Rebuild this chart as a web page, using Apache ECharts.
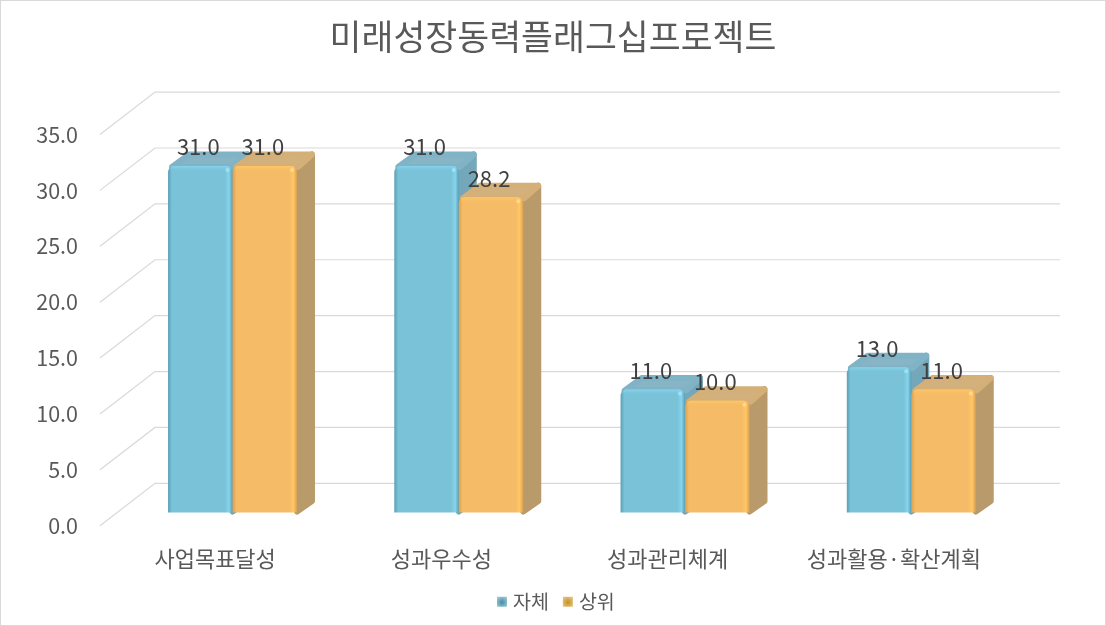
<!DOCTYPE html>
<html><head><meta charset="utf-8">
<style>html,body{margin:0;padding:0;background:#fff}#c{width:1106px;height:626px}</style>
<script src="https://cdn.jsdelivr.net/npm/echarts@6/dist/echarts.min.js"></script>
</head><body><div id="c"></div>
<script>
const titleText = '미래성장동력플래그십프로젝트';
const categories = ['사업목표달성','성과우수성','성과관리체계','성과활용·확산계획'];
const selfValues = [31.0,31.0,11.0,13.0];
const topValues = [31.0,28.2,10.0,11.0];
const yTicks = [0,5,10,15,20,25,30,35];
const FONT = '"Noto Sans CJK KR","Noto Sans",sans-serif';
const palette = {
  blue:{front:'#79C2D8',dark:'#5A9FB5',light:'#86D4EC',top:'#87B5C6',topRim:'#80B3C6',side:'#73A7B9',spot:'#A6E6F8'},
  orange:{front:'#F5BB66',dark:'#D9A052',light:'#FFC765',top:'#D3B17D',topRim:'#D4AF78',side:'#B89A6B',spot:'#FFDE96'}
};
function gridItem(params, api){
  const cs = params.coordSys, v = api.value(1), y = api.coord([0,v])[1];
  const dx = 53, dy = 42.4, xa = cs.x-2;
  const st = {stroke:'#D9D9D9',lineWidth:1.2,fill:null};
  return {type:'group',silent:true,children:[
    {type:'polyline',shape:{points:[[xa,y],[xa+dx+2,y-dy],[cs.x+cs.width+dx,y-dy]]},style:st,z2:0}
  ]};
}
function barItem(side, c){
  return function(params, api){
    const cat = api.value(0), val = api.value(1);
    const base = api.coord([cat,0]), tip = api.coord([cat,val]);
    const band = api.size([1,0])[0], w = band*0.285;
    const ox = 17.4, oy = 13.2, depX = 18, depY = 14.5;
    const x0 = base[0]+ox+(side<0?-w:0), x1 = x0+w, yb = base[1]-oy, yt = tip[1]-oy;
    const grad = new echarts.graphic.LinearGradient(0,0,1,0,[
      {offset:0,color:c.dark},{offset:0.06,color:c.front},{offset:0.88,color:c.front},{offset:0.945,color:c.light},{offset:1,color:c.dark}]);
    const gradTop = new echarts.graphic.LinearGradient(0,0,0,1,[
      {offset:0,color:c.light},{offset:1,color:c.front+'00'}]);
    const rim = 3;
    return {type:'group',silent:true,children:[
      {type:'polygon',shape:{points:[[x1,yt+3],[x1+depX-rim,yt-depY+rim],[x1+depX-rim,yb-depY+rim],[x1,yb-1]]},
        style:{fill:c.side,stroke:c.side,lineWidth:6,lineJoin:'round'},z2:2},
      {type:'polygon',shape:{points:[[x0+4,yt+1],[x0+depX+3,yt-depY+rim],[x1+depX-rim,yt-depY+rim],[x1+1,yt+1]]},
        style:{fill:c.top,stroke:c.topRim,lineWidth:6,lineJoin:'round'},z2:3},
      {type:'rect',shape:{x:x0,y:yt,width:w,height:yb-yt,r:[6,6,0,0]},style:{fill:grad},z2:4},
      {type:'rect',shape:{x:x0+2,y:yt,width:w-4,height:6,r:[4,4,0,0]},style:{fill:gradTop},z2:5},
      {type:'circle',shape:{cx:x1-5,cy:yt+4,r:2},style:{fill:c.spot,opacity:.8},z2:6},
      {type:'text',style:{text:val.toFixed(1),x:(x0+x1)/2-2,y:yt-19,align:'center',verticalAlign:'middle',
        font:'22px '+FONT,fill:'#404040'},z2:50}
    ]};
  };
}
const legendColor = (a,b)=>new echarts.graphic.RadialGradient(0.5,0.55,0.6,[{offset:0,color:a},{offset:1,color:b}]);
const chart = echarts.init(document.getElementById('c'),null,{renderer:'canvas'});
chart.setOption({
  backgroundColor:'#fff',animation:false,
  title:{text:titleText,left:'center',top:14,textStyle:{fontFamily:FONT,fontSize:34.7,fontWeight:'normal',color:'#595959'}},
  legend:{top:587,left:492,itemWidth:10,itemHeight:10,itemGap:14,icon:'rect',data:['자체','상위'],
    textStyle:{fontFamily:FONT,fontSize:19.5,color:'#595959',padding:[0,0,0,1]}},
  grid:{left:102,right:99,top:134.5,bottom:100.3,containLabel:false},
  xAxis:{type:'category',data:categories,axisLine:{show:false},axisTick:{show:false},
    axisLabel:{margin:22,interval:0,fontFamily:FONT,fontSize:22,color:'#595959'}},
  yAxis:{type:'value',min:0,max:35,interval:5,axisLine:{show:false},axisTick:{show:false},splitLine:{show:false},
    axisLabel:{margin:24,fontFamily:FONT,fontSize:21.5,color:'#595959',formatter:v=>v.toFixed(1)}},
  graphic:[{type:'rect',x:0,y:0,shape:{x:0,y:0,width:1106,height:626},style:{fill:'none',stroke:'#D9D9D9',lineWidth:2},silent:true}],
  series:[
    {type:'custom',name:'grid',coordinateSystem:'cartesian2d',z:1,renderItem:gridItem,
      data:yTicks.map(v=>[0,v]),encode:{x:0,y:1},silent:true,tooltip:{show:false}},
    {type:'custom',name:'자체',coordinateSystem:'cartesian2d',z:2,renderItem:barItem(-1,palette.blue),
      itemStyle:{color:legendColor('#3F8FA8','#9CC4D2')},
      data:selfValues.map((v,i)=>[i,v]),encode:{x:0,y:1}},
    {type:'custom',name:'상위',coordinateSystem:'cartesian2d',z:3,renderItem:barItem(1,palette.orange),
      itemStyle:{color:legendColor('#C98F25','#E3C27C')},
      data:topValues.map((v,i)=>[i,v]),encode:{x:0,y:1}}
  ]
});
</script></body></html>
